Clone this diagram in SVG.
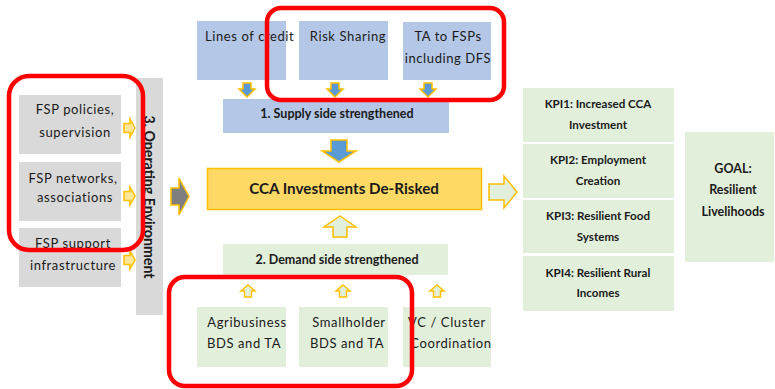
<svg xmlns="http://www.w3.org/2000/svg" width="775" height="389" viewBox="0 0 775 389">
<defs>
<style>
.gray{fill:#D9D9D9}
.blue{fill:#B4C7E7}
.green{fill:#E2EFDA}
.t{font-family:Lato,"Liberation Sans",sans-serif;font-size:13px;fill:#1a1a1a;text-anchor:middle;letter-spacing:0.6px}
.b{font-family:Lato,"Liberation Sans",sans-serif;font-size:12.5px;font-weight:bold;fill:#1a1a1a;text-anchor:middle}
.k{font-size:11.6px}
.arr{stroke:#FFC000;stroke-width:1.5;stroke-linejoin:miter}
.red{fill:none;stroke:#FF0000;stroke-width:4.5}
</style>
</defs>
<rect width="775" height="389" fill="#FFFFFF"/>

<g id="fsp-policies">
<rect class="gray" x="19" y="95" width="102" height="59"/>
<text class="t" x="75" y="114">FSP policies,</text>
<text class="t" x="75" y="137">supervision</text>
</g>
<g id="fsp-networks">
<rect class="gray" x="19" y="162" width="102" height="59"/>
<text class="t" x="73" y="183">FSP networks,</text>
<text class="t" x="75" y="202">associations</text>
</g>
<g id="fsp-support">
<rect class="gray" x="19" y="228" width="102" height="59"/>
<text class="t" x="73" y="248">FSP support</text>
<text class="t" x="73" y="270">infrastructure</text>
</g>
<g id="operating-environment">
<rect class="gray" x="136" y="78" width="27" height="237"/>
<text class="b" transform="translate(144,197) rotate(90)" style="font-size:14.2px">3. Operating Environment</text>
</g>

<g id="lines-of-credit">
<rect class="blue" x="197" y="21" width="89" height="59"/>
<text class="t" x="205" y="41" style="text-anchor:start">Lines of credit</text>
</g>
<g id="risk-sharing">
<rect class="blue" x="299" y="21" width="89" height="59"/>
<text class="t" x="348" y="41">Risk Sharing</text>
</g>
<g id="ta-to-fsps">
<rect class="blue" x="403" y="22" width="88" height="58"/>
<text class="t" x="448" y="41">TA to FSPs</text>
<text class="t" x="448" y="63">including DFS</text>
</g>
<g id="supply-side">
<rect class="blue" x="223" y="99" width="226" height="34"/>
<text class="b" x="337" y="118">1. Supply side strengthened</text>
</g>

<g id="cca-investments">
<rect x="207.5" y="168.5" width="274" height="41" fill="#FFD966" stroke="#FFC000" stroke-width="1.5"/>
<text class="b" x="344" y="194" style="font-size:15.2px">CCA Investments De-Risked</text>
</g>

<g id="demand-side">
<rect class="green" x="223" y="244" width="225" height="31"/>
<text class="b" x="337" y="264">2. Demand side strengthened</text>
</g>
<g id="agribusiness">
<rect class="green" x="197" y="307" width="89" height="60"/>
<text class="t" x="247" y="327">Agribusiness</text>
<text class="t" x="244" y="348">BDS and TA</text>
</g>
<g id="smallholder">
<rect class="green" x="299" y="307" width="89" height="60"/>
<text class="t" x="349" y="327">Smallholder</text>
<text class="t" x="347" y="348">BDS and TA</text>
</g>
<g id="vc-cluster">
<rect class="green" x="403" y="307" width="88" height="60"/>
<text class="t" x="447" y="327">VC / Cluster</text>
<text class="t" x="451" y="348">Coordination</text>
</g>

<g id="kpi1">
<rect class="green" x="523" y="88" width="151" height="54"/>
<text class="b k" x="598" y="108">KPI1: Increased CCA</text>
<text class="b k" x="598" y="129">Investment</text>
</g>
<g id="kpi2">
<rect class="green" x="523" y="144" width="151" height="54"/>
<text class="b k" x="598" y="164">KPI2: Employment</text>
<text class="b k" x="598" y="185">Creation</text>
</g>
<g id="kpi3">
<rect class="green" x="523" y="200" width="151" height="53"/>
<text class="b k" x="598" y="220">KPI3: Resilient Food</text>
<text class="b k" x="598" y="241">Systems</text>
</g>
<g id="kpi4">
<rect class="green" x="523" y="256" width="151" height="55"/>
<text class="b k" x="598" y="277">KPI4: Resilient Rural</text>
<text class="b k" x="598" y="297">Incomes</text>
</g>
<g id="goal">
<rect class="green" x="685" y="132" width="89" height="130"/>
<text class="b" x="733" y="173">GOAL:</text>
<text class="b" x="733" y="194">Resilient</text>
<text class="b" x="733" y="216">Livelihoods</text>
</g>

<g id="connectors">
<polygon class="arr" fill="#FFE699" points="124,123.5 130,123.5 130,119 135,128 130,137 130,132.5 124,132.5"/>
<polygon class="arr" fill="#FFE699" points="124,191.5 130,191.5 130,187 135,196 130,205 130,200.5 124,200.5"/>
<polygon class="arr" fill="#FFE699" points="124,255.5 130,255.5 130,251 135,260 130,269 130,264.5 124,264.5"/>
<polygon class="arr" fill="#7F7F7F" points="171,188 179,188 179,178 189,196.5 179,215 179,205 171,205"/>
<polygon class="arr" fill="#5B9BD5" points="243,83 251,83 251,89 255,89 247,97 239,89 243,89"/>
<polygon class="arr" fill="#5B9BD5" points="331,83 339,83 339,89 343,89 335,97 327,89 331,89"/>
<polygon class="arr" fill="#5B9BD5" points="424,83 432,83 432,89 436,89 428,97 420,89 424,89"/>
<polygon class="arr" fill="#5B9BD5" points="331,140 347,140 347,151 356,151 339,162 322,151 331,151"/>
<polygon class="arr" fill="#E2EFDA" points="340,216 356,227 347,227 347,237 333,237 333,227 324,227"/>
<polygon class="arr" fill="#E2EFDA" points="248,285 255,291 251.5,291 251.5,297 244.5,297 244.5,291 241,291"/>
<polygon class="arr" fill="#E2EFDA" points="343,285 350,291 346.5,291 346.5,297 339.5,297 339.5,291 336,291"/>
<polygon class="arr" fill="#E2EFDA" points="437,285 444,291 440.5,291 440.5,297 433.5,297 433.5,291 430,291"/>
<polygon class="arr" fill="#E2EFDA" points="489,184 504,184 504,176 517,192 504,208 504,200 489,200"/>
</g>

<g id="highlights">
<rect class="red" x="9" y="76" width="134" height="174" rx="20"/>
<rect class="red" x="267" y="8" width="237" height="92" rx="14"/>
<rect class="red" x="169" y="277" width="243" height="109" rx="16"/>
</g>
</svg>
